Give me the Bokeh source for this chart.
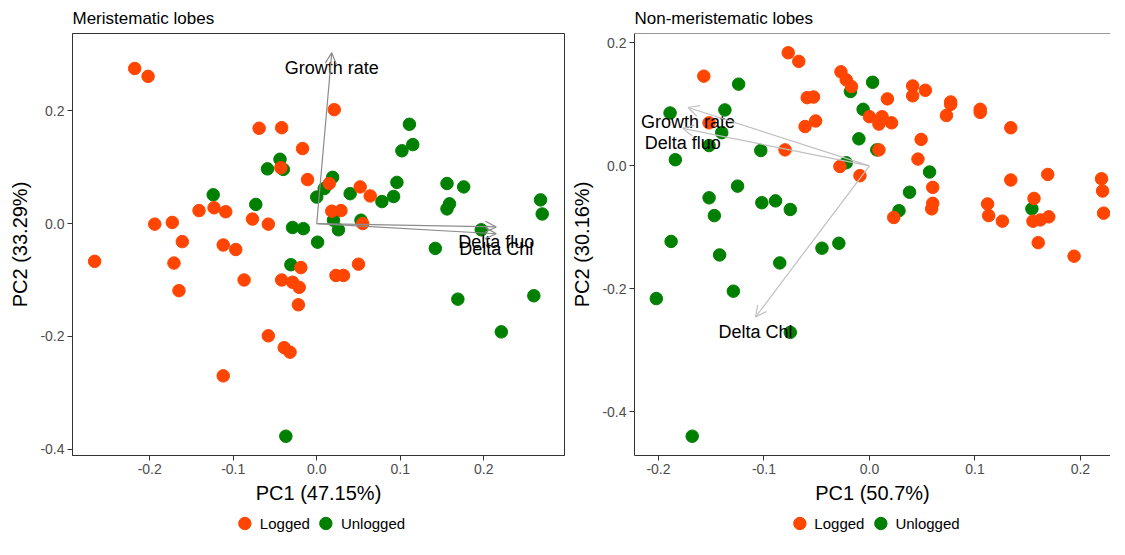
from bokeh.plotting import figure
from bokeh.models import (Range1d, Arrow, OpenHead, Legend, LegendItem, Span, Spacer,
                          FixedTicker, PrintfTickFormatter, ColumnDataSource)
from bokeh.layouts import row, column
from bokeh.embed import file_html
from bokeh.resources import INLINE
from bokeh.core.properties import value

FONT = "Liberation Sans"
C_LOG = "#FF4500"
C_UNL = "#008000"

# ---------------- data: Meristematic lobes ----------------
mer_logged_pc1 = [-0.218, -0.202, 0.021, -0.069, -0.042, -0.017, -0.043, -0.011, 0.015, 0.052,
                  0.064, 0.018, 0.029, 0.055, -0.141, -0.123, -0.109, -0.077, -0.058, -0.194,
                  -0.173, -0.161, -0.112, -0.097, -0.266, -0.171, -0.019, 0.050, -0.087, -0.042,
                  -0.029, -0.021, 0.023, 0.032, -0.165, -0.022, -0.058, -0.039, -0.032, -0.112]
mer_logged_pc2 = [0.275, 0.261, 0.202, 0.169, 0.170, 0.133, 0.099, 0.078, 0.071, 0.065,
                  0.049, 0.022, 0.023, 0.000, 0.023, 0.028, 0.021, 0.008, -0.001, -0.001,
                  0.002, -0.032, -0.038, -0.046, -0.067, -0.070, -0.078, -0.072, -0.100, -0.100,
                  -0.104, -0.113, -0.092, -0.092, -0.119, -0.144, -0.199, -0.220, -0.228, -0.270]
mer_unlogged_pc1 = [0.111, 0.115, 0.102, -0.044, -0.059, -0.040, 0.019, 0.009, 0.000, 0.040,
                    0.078, 0.092, 0.096, 0.156, 0.176, 0.159, 0.156, 0.268, 0.270, -0.124,
                    -0.073, 0.020, 0.026, 0.053, -0.029, -0.016, 0.001, 0.197, 0.142, -0.031,
                    0.169, 0.260, 0.221, -0.037]
mer_unlogged_pc2 = [0.176, 0.140, 0.129, 0.114, 0.097, 0.096, 0.082, 0.062, 0.047, 0.053,
                    0.039, 0.048, 0.073, 0.071, 0.065, 0.035, 0.026, 0.042, 0.017, 0.051,
                    0.034, 0.006, -0.011, 0.006, -0.007, -0.009, -0.033, -0.011, -0.044, -0.073,
                    -0.134, -0.128, -0.192, -0.377]
mer_vars = ["Growth rate", "Delta fluo", "Delta Chl"]
mer_var_pc1 = [0.018, 0.215, 0.215]
mer_var_pc2 = [0.303, -0.006, -0.018]

# ---------------- data: Non-meristematic lobes ----------------
non_logged_pc1 = [-0.077, -0.067, -0.157, -0.027, -0.022, -0.017, -0.059, -0.053, 0.017, -0.061,
                  -0.051, 0.000, 0.012, 0.009, 0.021, 0.041, 0.041, 0.053, 0.077, 0.077,
                  0.073, 0.105, 0.105, 0.134, 0.049, 0.046, 0.009, -0.080, -0.152, -0.028,
                  -0.009, 0.060, 0.060, 0.059, 0.023, 0.134, 0.169, 0.156, 0.112, 0.113,
                  0.126, 0.155, 0.162, 0.170, 0.160, 0.194, 0.220, 0.221, 0.222]
non_logged_pc2 = [0.184, 0.170, 0.146, 0.153, 0.140, 0.129, 0.111, 0.112, 0.109, 0.064,
                  0.073, 0.080, 0.080, 0.068, 0.070, 0.130, 0.114, 0.123, 0.104, 0.100,
                  0.082, 0.092, 0.087, 0.062, 0.043, 0.011, 0.026, 0.026, 0.070, -0.001,
                  -0.016, -0.035, -0.061, -0.070, -0.084, -0.023, -0.014, -0.053, -0.062, -0.081,
                  -0.090, -0.090, -0.088, -0.083, -0.125, -0.147, -0.021, -0.041, -0.077]
non_unlogged_pc1 = [0.003, -0.124, -0.018, -0.006, -0.137, -0.189, -0.140, -0.152, -0.184, -0.103,
                    -0.010, 0.007, -0.022, 0.057, 0.038, 0.028, 0.154, -0.125, -0.152, -0.147,
                    -0.102, -0.089, -0.075, -0.029, -0.045, -0.188, -0.142, -0.085, -0.129, -0.202,
                    -0.075, -0.168]
non_unlogged_pc2 = [0.136, 0.133, 0.121, 0.092, 0.091, 0.086, 0.054, 0.033, 0.010, 0.025,
                    0.044, 0.026, 0.005, -0.010, -0.043, -0.073, -0.070, -0.033, -0.052, -0.081,
                    -0.060, -0.057, -0.071, -0.126, -0.134, -0.123, -0.145, -0.158, -0.204, -0.216,
                    -0.271, -0.440]
non_vars = ["Growth rate", "Delta fluo", "Delta Chl"]
non_var_pc1 = [-0.172, -0.177, -0.108]
non_var_pc2 = [0.095, 0.061, -0.246]

group_labels = ["Logged", "Unlogged"]
group_colors = [C_LOG, C_UNL]
x_ticks = [-0.2, -0.1, 0.0, 0.1, 0.2]
y_ticks = [-0.4, -0.2, 0.0, 0.2]

FRAME_H = 422


def make_legend(fw, mbl, mbr):
    lf = figure(width=mbl + fw + mbr, height=34, x_range=Range1d(0, 1), y_range=Range1d(0, 1),
                output_backend="svg", toolbar_location=None,
                min_border_left=mbl, min_border_right=mbr, min_border_top=0, min_border_bottom=0)
    lf.axis.visible = False
    lf.grid.visible = False
    lf.outline_line_color = None
    items = []
    for lab, col in zip(group_labels, group_colors):
        r = lf.scatter([float("nan")], [float("nan")], size=12.5, fill_color=col, line_color=col)
        items.append(LegendItem(label=lab, renderers=[r]))
    leg = Legend(items=items, orientation="horizontal", location="center")
    leg.glyph_width = 31
    leg.glyph_height = 31
    leg.label_standoff = 0
    leg.spacing = 0
    leg.padding = 0
    leg.margin = 0
    leg.border_line_color = None
    leg.background_fill_alpha = 0
    leg.label_text_font = FONT
    leg.label_text_font_size = "15px"
    leg.label_text_color = "black"
    lf.add_layout(leg)
    return lf


def make_panel(title, xlab, ylab, xr, yr, lp1, lp2, up1, up2, vnames, v1, v2,
               arrow_color, fw, mbl, mbr, full_border):
    p = figure(frame_width=fw, frame_height=FRAME_H, x_range=Range1d(*xr), y_range=Range1d(*yr),
               output_backend="svg", toolbar_location=None,
               min_border_left=mbl, min_border_right=mbr, min_border_top=0,
               min_border_bottom=0)
    p.background_fill_color = "white"
    p.border_fill_color = "white"
    p.grid.visible = False
    if full_border:
        p.outline_line_color = "#333333"
        p.outline_line_width = 1
    else:
        p.outline_line_color = None
        p.add_layout(Span(location=yr[1], dimension="width", line_color="#333333", line_width=1))

    p.title.text = title
    p.title.text_font = FONT
    p.title.text_font_size = "17px"
    p.title.text_font_style = "normal"
    p.title.text_color = "black"
    p.title.align = "left"
    p.title.standoff = 12

    for ax, ticks in ((p.xaxis[0], x_ticks), (p.yaxis[0], y_ticks)):
        ax.ticker = FixedTicker(ticks=ticks, minor_ticks=[])
        ax.formatter = PrintfTickFormatter(format="%.1f")
        ax.axis_line_color = "#333333"
        ax.major_tick_line_color = "#333333"
        ax.major_tick_out = 5
        ax.major_tick_in = 0
        ax.minor_tick_line_color = None
        ax.major_label_text_font = FONT
        ax.major_label_text_font_size = "14px"
        ax.major_label_text_color = "#4D4D4D"
        ax.major_label_standoff = 3
        ax.axis_label_text_font = FONT
        ax.axis_label_text_font_size = "20px"
        ax.axis_label_text_font_style = "normal"
        ax.axis_label_text_color = "black"
    p.xaxis.axis_label = xlab
    p.yaxis.axis_label = ylab
    p.xaxis.axis_label_standoff = 5
    p.yaxis.axis_label_standoff = 6

    p.scatter(up1, up2, size=12.5, fill_color=C_UNL, line_color=C_UNL)
    p.scatter(lp1, lp2, size=12.5, fill_color=C_LOG, line_color=C_LOG)

    src = ColumnDataSource(dict(x0=[0.0] * len(v1), y0=[0.0] * len(v1), x1=v1, y1=v2, name=vnames))
    p.add_layout(Arrow(end=OpenHead(size=11, line_color=arrow_color, line_width=1.2),
                       x_start="x0", y_start="y0", x_end="x1", y_end="y1", source=src,
                       line_color=arrow_color, line_width=1.2))
    p.text(x="x1", y="y1", text="name", source=src, text_align="center",
           text_baseline="middle", y_offset=15, text_font=value(FONT),
           text_font_size="18px", text_color="black")
    return column(p, make_legend(fw, mbl, mbr), spacing=0)


p1 = make_panel("Meristematic lobes", "PC1 (47.15%)", "PC2 (33.29%)",
                (-0.2925, 0.2967), (-0.4112, 0.337),
                mer_logged_pc1, mer_logged_pc2, mer_unlogged_pc1, mer_unlogged_pc2,
                mer_vars, mer_var_pc1, mer_var_pc2, "#8C8C8C", 492, 64, 4, True)
p2 = make_panel("Non-meristematic lobes", "PC1 (50.7%)", "PC2 (30.16%)",
                (-0.2227, 0.2285), (-0.4714, 0.2154),
                non_logged_pc1, non_logged_pc2, non_unlogged_pc1, non_unlogged_pc2,
                non_vars, non_var_pc1, non_var_pc2, "#C0C0C0", 476, 65, 0, False)

layout = row(Spacer(width=6, height=10), p1, p2)
open("out.html", "w").write(file_html(layout, INLINE))
